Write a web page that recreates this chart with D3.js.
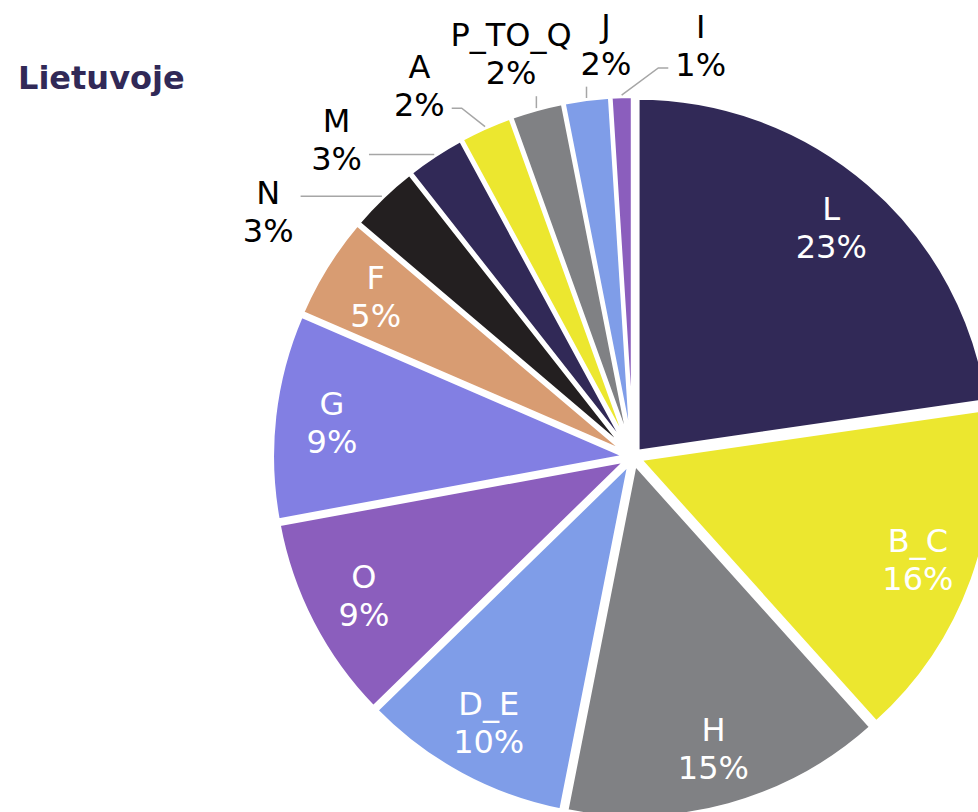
<!DOCTYPE html>
<html><head><meta charset="utf-8">
<script src="https://cdn.jsdelivr.net/npm/d3@7/dist/d3.min.js"></script>
<style>
html,body{margin:0;padding:0;background:#fff;}
svg{display:block;font-family:"DejaVu Sans",Verdana,sans-serif;}
</style>
</head><body>
<svg id="chart" width="978" height="812"></svg>
<script>
// ---- data ----
const title = "Lietuvoje";
const categories = ["L","B_C","H","D_E","O","G","F","N","M","A","P_TO_Q","J","I"];
const values = [22.7,15.65,14.75,9.6,9.4,9.4,4.7,3.2,2.7,2.4,2.4,2.1,1.0];
const palette = ["#312957","#ECE72F","#808184","#7F9DE8","#8B5EBD","#827FE3","#D89C72","#231F20"];

// ---- layout ----
const W = 978, H = 812;
const cx = 633, cy = 457, R = 354, explode = 7;
const fontSize = 32;

const svg = d3.select("#chart");
svg.append("text").attr("x", 18).attr("y", 89)
  .attr("font-size", fontSize).attr("font-weight", "bold").attr("fill", "#312957")
  .text(title);

const total = d3.sum(values);
const data = categories.map((c, i) => ({name: c, value: values[i]}));
const pie = d3.pie().sort(null).value(d => d.value)(data);
const arc = d3.arc().innerRadius(0).outerRadius(R);
const color = d3.scaleOrdinal().domain(categories).range(palette);
const mid = d => (d.startAngle + d.endAngle) / 2;
const pct = d => Math.round(d.value / total * 100) + "%";

const g = svg.append("g").attr("transform", `translate(${cx},${cy})`);

g.selectAll("path.slice").data(pie).join("path")
  .attr("class", "slice")
  .attr("d", arc)
  .attr("fill", d => color(d.data.name))
  .attr("stroke", "#fff").attr("stroke-width", 4)
  .attr("transform", d => `translate(${explode * Math.sin(mid(d))},${-explode * Math.cos(mid(d))})`);

const inside = pie.filter(d => d.value / total >= 0.04);
const outside = pie.filter(d => d.value / total < 0.04);

// inside labels
const rIn = 303;
inside.forEach(d => {
  const a = mid(d), x = rIn * Math.sin(a), y = -rIn * Math.cos(a);
  const t = g.append("text").attr("text-anchor", "middle").attr("fill", "#fff").attr("font-size", fontSize);
  t.append("tspan").attr("x", x).attr("y", y - 8).text(d.data.name);
  t.append("tspan").attr("x", x).attr("y", y + 30).text(pct(d));
});

// outside labels: spread angles to avoid overlap
function spread(ms, gap) {
  let groups = ms.map(m => ({ms: [m]}));
  const first = gr => d3.mean(gr.ms) - (gr.ms.length - 1) / 2 * gap;
  let changed = true;
  while (changed) {
    changed = false;
    for (let i = 0; i < groups.length - 1; i++) {
      const a = groups[i], b = groups[i + 1];
      const aEnd = first(a) + (a.ms.length - 1) * gap;
      if (first(b) - aEnd < gap) {
        a.ms = a.ms.concat(b.ms); groups.splice(i + 1, 1); changed = true; break;
      }
    }
  }
  const out = [];
  groups.forEach(gr => { const p = first(gr); gr.ms.forEach((m, k) => out.push(p + k * gap)); });
  return out;
}
const deg = Math.PI / 180;
const labelAngles = spread(outside.map(mid), 13.1 * deg).map(a => a - 2.4 * deg);
const rEdge = R + explode + 1;
// text blocks are wider than tall: push sideways labels a little further out
const rOutAt = a => 411 + 34 * Math.abs(Math.sin(a));

outside.forEach((d, i) => {
  const a = labelAngles[i];
  const ro = rOutAt(a);
  const x = ro * Math.sin(a), y = -ro * Math.cos(a);
  const t = g.append("text").attr("text-anchor", "middle").attr("fill", "#000").attr("font-size", fontSize);
  t.append("tspan").attr("x", x).attr("y", y - 8).text(d.data.name);
  const p = t.append("tspan").attr("x", x).attr("y", y + 30).text(pct(d));
  const pw = p.node().getComputedTextLength();
  const m = mid(d);
  const ex = rEdge * Math.sin(m), ey = -rEdge * Math.cos(m);
  let pts;
  if (ex > x + pw / 2 + 4) {
    const sx = x + pw / 2 + 7, sy = Math.min(ey, y + 22);
    pts = [[sx, sy], [sx + 10, sy], [ex, ey]];
  } else if (ex < x - pw / 2 - 4) {
    const sx = x - pw / 2 - 7, sy = Math.min(ey, y + 22);
    pts = [[sx, sy], [sx - 10, sy], [ex, ey]];
  } else {
    pts = [[ex, y + 42], [ex, ey]];
  }
  g.append("path").attr("d", d3.line()(pts))
    .attr("fill", "none").attr("stroke", "#A6A6A6").attr("stroke-width", 1.5);
});
</script>
</body></html>
